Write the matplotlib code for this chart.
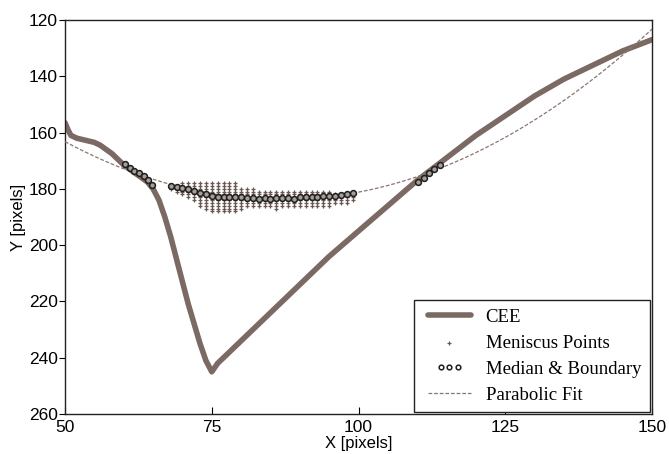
import matplotlib
matplotlib.use("Agg")
import matplotlib.pyplot as plt
from matplotlib.legend_handler import HandlerLine2D
import numpy as np

# CEE curve (x, y in pixels)
cee_x = [50, 50.5, 51, 52, 53, 54, 55, 56, 57, 58, 59, 60, 61, 62, 63, 64, 65, 66,
         67, 68, 69, 70, 71, 72, 73, 74, 75, 76, 78, 80, 85, 90, 95, 100, 105,
         110, 115, 120, 125, 130, 135, 140, 145, 150]
cee_y = [156.5, 159, 161, 162, 162.5, 163, 163.5, 164.5, 166, 167.5, 169.5, 171.5,
         173, 174.5, 176, 177.5, 180, 184, 190, 197, 205, 213, 221, 228, 235, 241,
         245, 242, 238, 234, 224, 214, 204, 195, 186, 177, 169, 161, 154, 147, 141,
         136, 131, 127]

# meniscus point columns: x and the y range covered
men_x = list(range(68, 100))
men_lo = [179, 179, 178, 178, 178, 178, 178, 178, 178, 178, 178, 178, 180, 180, 180, 181,
          181, 181, 181, 181, 181, 181, 181, 181, 181, 181, 181, 181, 182, 182, 182, 182]
men_hi = [180, 181, 182, 183, 184, 186, 187, 188, 188, 188, 188, 188, 187, 186, 186, 186,
          186, 186, 187, 186, 186, 186, 186, 186, 186, 186, 186, 186, 185, 185, 185, 184]

# median points
med_x = list(range(68, 100))
med_y = [179, 179.3, 179.6, 180.2, 180.8, 181.5, 182, 182.5, 182.8, 183, 183, 183, 183,
         183.2, 183.4, 183.6, 183.4, 183.5, 183.3, 183.3, 183.2, 183.5, 183, 182.8, 182.8,
         182.8, 182.7, 182.6, 182.5, 182.3, 182, 181.5]

# boundary points on the CEE
bnd_x = [60.3, 61.0, 61.8, 62.6, 63.4, 64.2, 64.9, 110.2, 111.1, 112.0, 112.9, 113.8]
bnd_y = [171, 172.5, 173.5, 174.5, 175.5, 177, 178.6, 177.5, 176, 174.5, 173, 171.5]

brown = "#7b6a63"

fig = plt.figure(figsize=(6.69, 4.54), dpi=100)
ax = fig.add_axes([0.0972, 0.0881, 0.8774, 0.8679])

ax.plot(cee_x, cee_y, color=brown, lw=4.0, solid_capstyle="round", label="CEE", zorder=2)

mx, my = [], []
for x, lo, hi in zip(men_x, men_lo, men_hi):
    for y in range(lo, hi + 1):
        mx.append(x)
        my.append(y)
ax.scatter(mx, my, marker="+", s=9, lw=0.9, color="#6a5751", label="Meniscus Points", zorder=3)

px = med_x + bnd_x
py = med_y + bnd_y
circ, = ax.plot(px, py, "o", ls="none", ms=4.2, mfc="#a79d98", mec="#1e1e1e", mew=1.1,
                label="Median & Boundary", zorder=4)

# parabolic fit through median and boundary points
coef = np.polyfit(px, py, 2)
fx = np.linspace(50, 150, 200)
ax.plot(fx, np.polyval(coef, fx), ls=(0, (3, 1.5)), lw=0.9, color="#8a7670",
        label="Parabolic Fit", zorder=3)

ax.set_xlim(50, 150)
ax.set_ylim(260, 120)
ax.set_xticks([50, 75, 100, 125, 150])
ax.set_yticks(range(120, 261, 20))
ax.tick_params(axis="x", direction="in", length=5, labelsize=12.5, pad=4)
ax.tick_params(axis="y", direction="out", length=4, labelsize=12.5, pad=1)
for lab in ax.get_xticklabels() + ax.get_yticklabels():
    lab.set_family("Liberation Sans")
for s in ax.spines.values():
    s.set_linewidth(1.0)
    s.set_color("#222222")

ax.set_xlabel("X [pixels]", family="Liberation Sans", fontsize=12, labelpad=1)
ax.set_ylabel("Y [pixels]", family="Liberation Sans", fontsize=12, labelpad=2)

leg = ax.legend(loc="lower right", bbox_to_anchor=(0.996, 0.005), borderaxespad=0,
                prop={"family": "Liberation Serif", "size": 13.5}, numpoints=3,
                scatterpoints=1, handlelength=2.9, handletextpad=0.5,
                labelspacing=0.47, borderpad=0.45, fancybox=False, framealpha=1,
                edgecolor="#222222", markerscale=0.8,
                handler_map={circ: HandlerLine2D(numpoints=3, marker_pad=1.0)})
leg.get_frame().set_linewidth(1.0)
for h in leg.legend_handles[2:3]:
    h.set_markerfacecolor("white")

fig.savefig("out.png", dpi=100)
